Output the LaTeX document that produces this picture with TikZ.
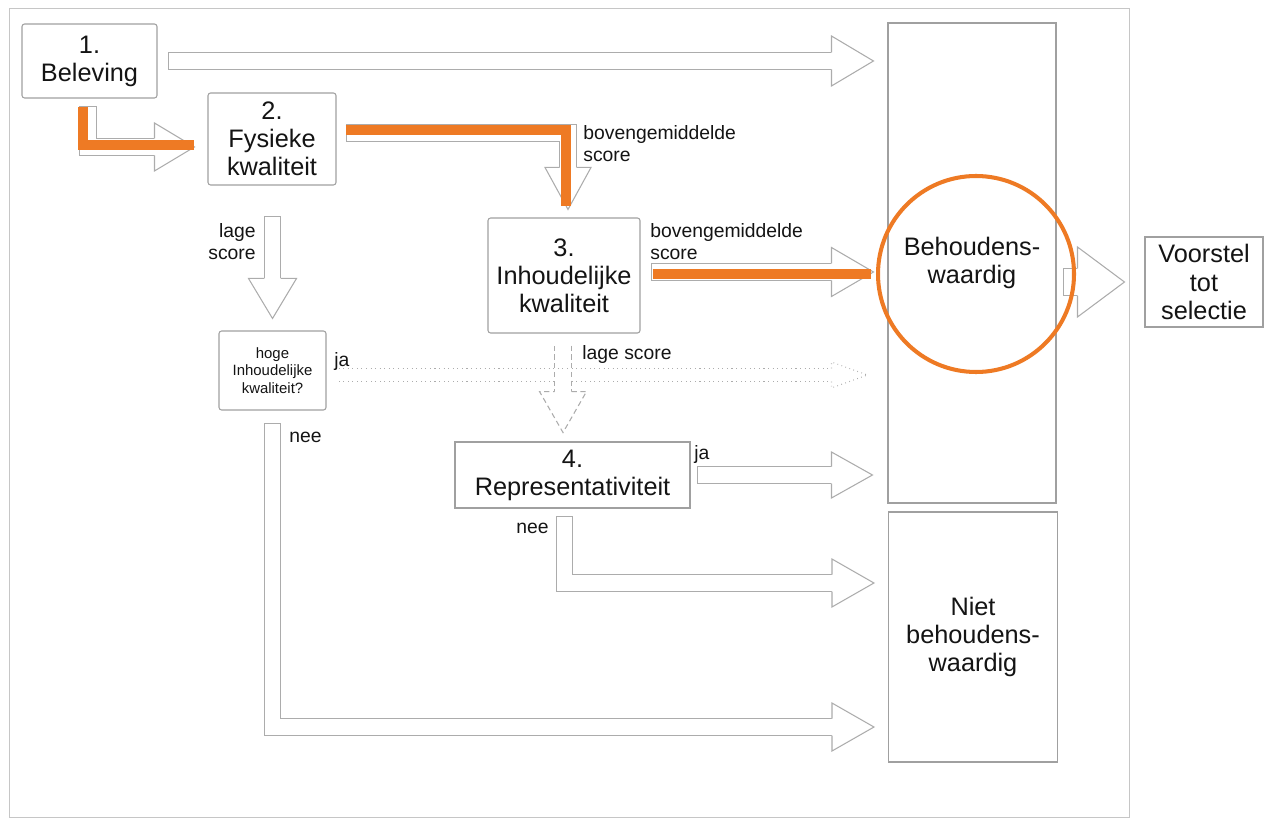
\documentclass[tikz,border=0pt]{standalone}
\usepackage{fontspec}
\setmainfont{Liberation Sans}
\usetikzlibrary{calc}

\definecolor{kader}{RGB}{160,160,160}
\definecolor{pijl}{RGB}{172,172,172}
\definecolor{oranje}{RGB}{238,122,36}
\definecolor{tekst}{RGB}{20,20,20}

\begin{document}
\begin{tikzpicture}[x=0.2mm, y=-0.2mm,
        box/.style={draw=kader, line width=0.6pt, rounded corners=1.5pt, fill=white, inner sep=0pt, align=center, text=tekst, font=\fontsize{14.4}{16}\selectfont},
        vak/.style={box, rounded corners=0pt},
        lbl/.style={inner sep=0pt, align=left, text=tekst, font=\fontsize{11}{12.5}\selectfont},
        hol/.style={draw=pijl, line width=0.6pt, double=white, double distance=9pt, line cap=rect},
        kopstijl/.style={draw=pijl, line width=0.6pt, line join=miter},
        pics/kop/.style args={#1/#2/#3}{code={
            \fill[white] (0,-#2) -- (#3,0) -- (0,#2) -- cycle;
            \draw[kopstijl] (0,-#1) -- (0,-#2) -- (#3,0) -- (0,#2) -- (0,#1);
        }},
        oranjelijn/.style={draw=oranje, line width=5.5pt}
    ]
    \useasboundingbox (0,0) rectangle (1268,820);
    \draw[draw=kader!60, line width=0.5pt] (9,8) rectangle (1129,817);      % outer frame

    % the steps
    \node[box, minimum width=27mm, minimum height=14.8mm] (beleving) at (89.5,61) {1.\\Beleving};
    \node[box, minimum width=25.6mm, minimum height=18.4mm] (fysiek) at (272,139) {2.\\Fysieke\\kwaliteit};
    \node[box, minimum width=30.4mm, minimum height=23mm] (inhoud) at (564,275.5) {3.\\Inhoudelijke\\kwaliteit};
    \node[box, minimum width=21.4mm, minimum height=15.8mm, font=\fontsize{8.5}{10}\selectfont] (hoog) at (272.5,370.5) {hoge\\Inhoudelijke\\kwaliteit?};
    \node[box, minimum width=47mm, minimum height=13.2mm, rounded corners=0pt] (repr) at (572.5,475) {4.\\Representativiteit};

    % the outcomes
    \node[vak, minimum width=33.6mm, minimum height=96mm] (behoud) at (972,263) {Behoudens-\\waardig};
    \node[vak, minimum width=33.8mm, minimum height=50mm] (nietbeh) at (973,637) {Niet\\behoudens-\\waardig};
    \node[vak, minimum width=23.6mm, minimum height=18mm] (voorstel) at (1204,282) {Voorstel\\tot\\selectie};

    \coordinate (kopx) at ($(behoud.west)+(-56,0)$);      % x where the heads start

    % hollow arrows
    \draw[hol] ($(beleving.east)+(19,0)$) -- (beleving.east -| kopx);
    \pic at (beleving.east -| kopx) {kop=8.5/25/42};
    \draw[hol] ($(beleving.south)+(-1.5,16)$) |- ($(fysiek.west)+(-53,8)$);
    \pic at ($(fysiek.west)+(-53,8)$) {kop=8.5/24/40};
    \draw[hol] ($(fysiek.east)+(18,-6)$) -| ($(inhoud.north)+(4,-50)$);
    \pic[rotate=-90] at ($(inhoud.north)+(4,-50)$) {kop=8.5/23/42};
    \draw[hol] ($(fysiek.south)+(0.5,39)$) -- ($(hoog.north)+(0,-52)$);
    \pic[rotate=-90] at ($(hoog.north)+(0,-52)$) {kop=8.5/24/40};
    \draw[hol] ($(inhoud.east)+(19,-3.5)$) -- ($(kopx |- inhoud.east)+(0,-3.5)$);
    \pic at ($(kopx |- inhoud.east)+(0,-3.5)$) {kop=8.5/24.5/42};
    \draw[hol, line cap=butt, dotted, double distance=7pt] ($(hoog.east)+(12,4.5)$) -- ($(kopx |- hoog.east)+(0,4.5)$);
    \pic[dotted] at ($(kopx |- hoog.east)+(0,4.5)$) {kop=6.7/13/36};
    \draw[hol, line cap=butt, densely dashed] ($(inhoud.south)+(-1,12)$) -- ($(inhoud.south)+(-1,58)$);
    \pic[rotate=-90, densely dashed] at ($(inhoud.south)+(-1,58)$) {kop=8.5/23.5/41};
    \draw[hol] ($(repr.east)+(15,0)$) -- (repr.east -| kopx);
    \pic at (repr.east -| kopx) {kop=8.5/23/41};
    \draw[hol] ($(repr.south)+(-8,16)$) |- ($(nietbeh.west)+(-56,-54)$);
    \pic at ($(nietbeh.west)+(-56,-54)$) {kop=8.5/24/42};
    \draw[hol] ($(hoog.south)+(0,21)$) |- ($(nietbeh.west)+(-56,90)$);
    \pic at ($(nietbeh.west)+(-56,90)$) {kop=8.5/24/42};
    \draw[hol, double distance=14.7pt] ($(voorstel.west)+(-68,0)$) -- ($(voorstel.west)+(-67,0)$);
    \pic at ($(voorstel.west)+(-67,0)$) {kop=13.7/35/47};

    % labels on the arrows
    \node[lbl, anchor=west] (boven3) at (583,144) {bovengemiddelde\\score};
    \node[lbl, anchor=west] (boven5) at (650,242) {bovengemiddelde\\score};
    \node[lbl, anchor=east, align=right] (laag4) at (256,242) {lage\\score};
    \node[lbl, anchor=west] (laag7) at (582,355) {lage score};
    \node[lbl, anchor=west] (ja6) at (334,362) {ja};
    \node[lbl, anchor=west] (ja8) at (694,455) {ja};
    \node[lbl, anchor=east] (nee9) at (549,528) {nee};
    \node[lbl, anchor=west] (nee10) at (289,437) {nee};

    % orange route on top
    \draw[oranjelijn] ($(beleving.south)+(-6.5,8)$) |- ($(fysiek.west)+(-13,6)$);
    \draw[oranjelijn] ($(fysiek.east)+(9,-9)$) -| ($(inhoud.north)+(2,-11)$);
    \draw[oranjelijn] ($(inhoud.east)+(12,-1.5)$) -- ($(behoud.west |- inhoud.east)+(-16,-1.5)$);
    \draw[draw=oranje, line width=2.3pt] (976,274) circle[radius=98];      % ring round the outcome
\end{tikzpicture}
\end{document}
